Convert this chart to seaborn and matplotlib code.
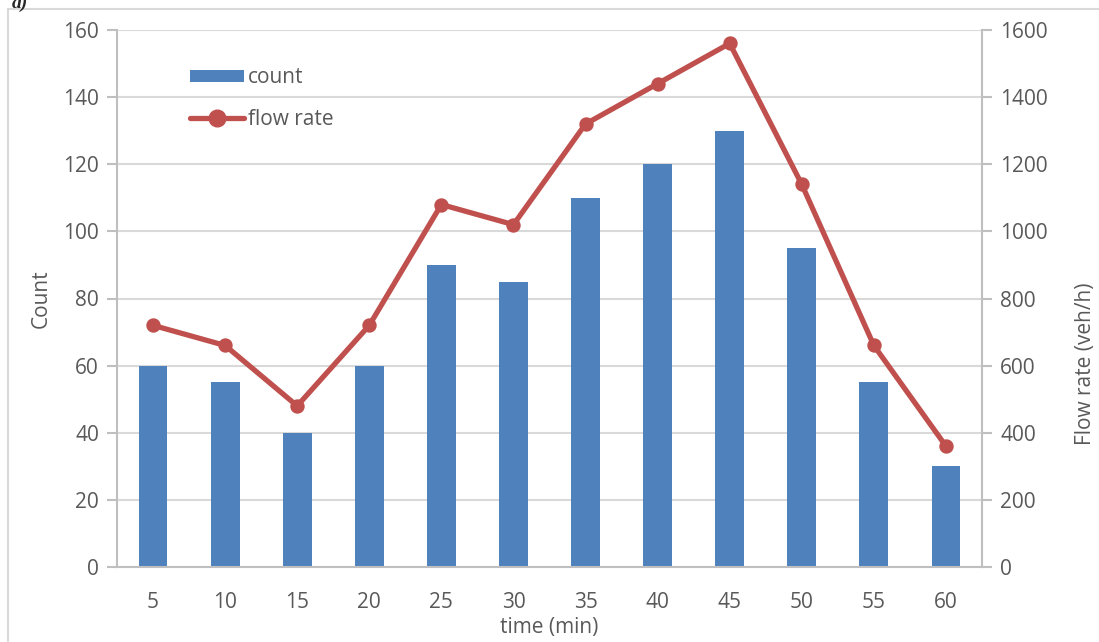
import matplotlib.pyplot as plt
import matplotlib.patches as mpatches
from matplotlib.lines import Line2D
import pandas as pd
import seaborn as sns

# data
time_min = [5, 10, 15, 20, 25, 30, 35, 40, 45, 50, 55, 60]
count = [60, 55, 40, 60, 90, 85, 110, 120, 130, 95, 55, 30]
flow_rate = [720, 660, 480, 720, 1080, 1020, 1320, 1440, 1560, 1140, 660, 360]

df = pd.DataFrame({'time': time_min, 'count': count, 'flow': flow_rate})

sns.set_style("white")
plt.rcParams['font.family'] = ['Open Sans', 'DejaVu Sans']

bar_col = '#4F81BD'
line_col = '#C0504D'
txt_col = '#595959'
grid_col = '#D9D9D9'
spine_col = '#BFBFBF'
fs = 15

fig = plt.figure(figsize=(10.99, 6.42), dpi=100)
ax = fig.add_axes([117 / 1099, 1 - 567 / 642, (982 - 117) / 1099, (567 - 30) / 642])

sns.barplot(x='time', y='count', data=df, color=bar_col, width=0.4,
            saturation=1, linewidth=0, ax=ax, zorder=2)
ax.set_ylim(0, 160)
ax.set_xlim(-0.5, 11.5)
ax.set_yticks(range(0, 161, 20))
ax.yaxis.grid(True, color=grid_col, linewidth=1.5, zorder=0)
ax.set_axisbelow(True)

ax2 = ax.twinx()
sns.pointplot(x='time', y='flow', data=df, color=line_col, markers='o',
              linestyles='-', ax=ax2, markersize=7.5, linewidth=3.8)
ax2.set_ylim(0, 1600)
ax2.set_yticks(range(0, 1601, 200))
ax2.set_xlim(-0.5, 11.5)
ax2.set_ylabel('')

for a in (ax, ax2):
    for s in a.spines.values():
        s.set_visible(False)
    a.tick_params(axis='y', colors=spine_col, labelcolor=txt_col, labelsize=fs,
                  length=7, width=1.5, pad=6)
ax.spines['left'].set_visible(True)
ax.spines['left'].set_color(spine_col)
ax.spines['left'].set_linewidth(1.5)
ax.spines['bottom'].set_visible(True)
ax.spines['bottom'].set_color(spine_col)
ax.spines['bottom'].set_linewidth(1.5)
ax2.spines['right'].set_visible(True)
ax2.spines['right'].set_color(spine_col)
ax2.spines['right'].set_linewidth(1.5)
ax.tick_params(axis='x', length=0, labelcolor=txt_col, labelsize=fs, pad=18)

ax.set_xlabel('time (min)', fontsize=fs, color=txt_col, labelpad=3)
ax.set_ylabel('Count', fontsize=fs, color=txt_col, labelpad=8)

fig.text(1086 / 1099, 1 - 445 / 642, 'Flow rate (veh/h)', rotation=90,
         ha='center', va='bottom', fontsize=fs, color=txt_col)
fig.text(12 / 1099, 1 - 3 / 642, 'a)', ha='left', va='center', fontsize=14,
         fontweight='bold', style='italic', family='Liberation Serif')

# chart area border
fig.patches.append(mpatches.Rectangle((8 / 1099, -0.1), 1.2, 1 - 9 / 642 + 0.1,
                                      transform=fig.transFigure, fill=False,
                                      edgecolor='#D9D9D9', linewidth=1.5))

handles = [mpatches.Patch(color=bar_col, linewidth=0),
           Line2D([0], [0], color=line_col, linewidth=3.8, marker='o', markersize=12)]
leg = ax.legend(handles, ['count', 'flow rate'], loc='upper left',
                bbox_to_anchor=(0.072, 0.95), frameon=False, fontsize=fs,
                handlelength=2.6, handleheight=0.55, handletextpad=0.2,
                labelspacing=1.0, borderpad=0)
for t in leg.get_texts():
    t.set_color(txt_col)
leg.set_zorder(5)

fig.savefig('out.png', dpi=100)
